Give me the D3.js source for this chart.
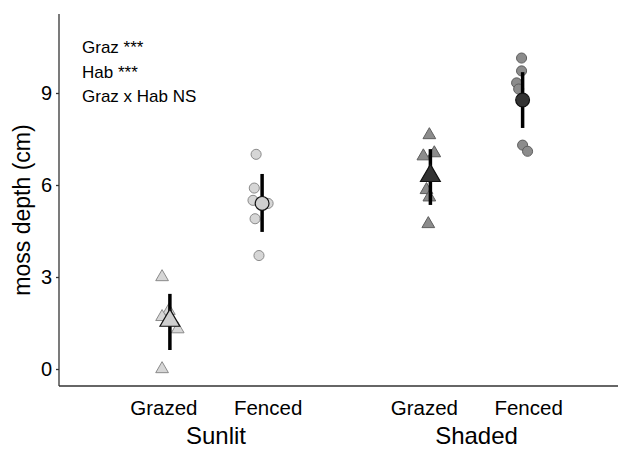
<!DOCTYPE html>
<meta charset="utf-8">
<style>
body { margin: 0; background: #fff; }
text { font-family: "Liberation Sans", Arial, sans-serif; fill: #000; }
</style>
<body>
<svg width="620" height="450" id="chart"></svg>
<script src="https://d3js.org/d3.v7.min.js"></script>
<script>

// habitat x grazing groups
var habitats = ["Sunlit", "Shaded"];
var grazing = ["Grazed", "Fenced"];
var yTicks = [0, 3, 6, 9];

// raw moss depths (cm) per group
var sunlitGrazed = [3.0, 1.9, 1.7, 1.6, 1.3, 0.0];
var sunlitFenced = [7.0, 5.9, 5.5, 5.4, 4.9, 3.7];
var shadedGrazed = [7.63, 7.04, 6.94, 5.84, 5.6, 4.73];
var shadedFenced = [10.14, 9.72, 9.33, 9.13, 7.3, 7.1];

// horizontal jitter (fraction of one habitat step) as seen in the plot
var jitSunlitGrazed = [-0.03, -0.004, -0.03, 0, 0.03, -0.03];
var jitSunlitFenced = [-0.023, -0.03, -0.035, 0.023, -0.027, -0.012];
var jitShadedGrazed = [-0.004, 0.015, -0.027, -0.015, -0.004, -0.008];
var jitShadedFenced = [-0.004, -0.004, -0.023, -0.015, 0, 0.019];

// group means with error bar ends
var means = [1.58, 5.4, 6.3, 8.77];
var lower = [0.62, 4.47, 5.35, 7.86];
var upper = [2.45, 6.36, 7.17, 9.68];

var stats = ["Graz ***", "Hab ***", "Graz x Hab NS"];

var groups = [
  {hab: "Sunlit", graz: "Grazed", vals: sunlitGrazed, jit: jitSunlitGrazed},
  {hab: "Sunlit", graz: "Fenced", vals: sunlitFenced, jit: jitSunlitFenced},
  {hab: "Shaded", graz: "Grazed", vals: shadedGrazed, jit: jitShadedGrazed},
  {hab: "Shaded", graz: "Fenced", vals: shadedFenced, jit: jitShadedFenced}
];
groups.forEach(function(g, i) { g.mean = means[i]; g.lo = lower[i]; g.hi = upper[i]; });

var svg = d3.select("svg"),
    width = +svg.attr("width"),
    height = +svg.attr("height");

var margin = {left: 59, top: 14, bottom: 386, right: 618};

// habitats sit at 1 and 2 on a continuous axis
var x = d3.scaleLinear().domain([1, 2]).range([216, 476.5]);
var dodge = d3.scalePoint().domain(grazing).range([-0.177, 0.177]);
var y = d3.scaleLinear().domain([-0.554, 11.576]).range([margin.bottom, margin.top]);

function hx(h) { return habitats.indexOf(h) + 1; }
function gx(g) { return x(hx(g.hab) + dodge(g.graz)); }

var sym = {
  Grazed: d3.symbol().type(d3.symbolTriangle),
  Fenced: d3.symbol().type(d3.symbolCircle)
};
var ptFill = {Sunlit: "#d6d6d6", Shaded: "#8c8c8c"};
var ptStroke = {Sunlit: "#8a8a8a", Shaded: "#5e5e5e"};
var meanFill = {Sunlit: "#cfcfcf", Shaded: "#333333"};

// axes
svg.append("line")
    .attr("x1", margin.left).attr("x2", margin.left)
    .attr("y1", margin.top).attr("y2", margin.bottom)
    .attr("stroke", "#333").attr("stroke-width", 1.3);
svg.append("line")
    .attr("x1", margin.left).attr("x2", margin.right)
    .attr("y1", margin.bottom).attr("y2", margin.bottom)
    .attr("stroke", "#333").attr("stroke-width", 1.3);

var yAxis = svg.append("g")
    .attr("transform", "translate(" + margin.left + ",0)")
    .call(d3.axisLeft(y).tickValues(yTicks).tickSize(3).tickPadding(4));
yAxis.select(".domain").remove();
yAxis.selectAll("line").attr("stroke", "#333").attr("stroke-width", 1.3);
yAxis.selectAll("text")
    .attr("font-size", 20)
    .attr("fill", "#1a1a1a")
    .style("font-family", '"Liberation Sans", Arial, sans-serif');

svg.append("text")
    .attr("transform", "translate(30," + 210 + ") rotate(-90)")
    .attr("text-anchor", "middle")
    .attr("font-size", 23)
    .text("moss depth (cm)");

// x labels
groups.forEach(function(g) {
  svg.append("text")
      .attr("x", x(hx(g.hab) + dodge(g.graz) * 1.13))
      .attr("y", 415)
      .attr("text-anchor", "middle")
      .attr("font-size", 20.5)
      .text(g.graz);
});
habitats.forEach(function(h) {
  svg.append("text")
      .attr("x", x(hx(h)))
      .attr("y", 444)
      .attr("text-anchor", "middle")
      .attr("font-size", 24)
      .text(h);
});

// raw points
groups.forEach(function(g) {
  var pts = g.vals.map(function(v, i) { return {v: v, j: g.jit[i]}; });
  svg.append("g").selectAll("path")
    .data(pts)
    .enter().append("path")
    .attr("d", sym[g.graz].size(g.graz === "Grazed" ? 70 : 80)())
    .attr("transform", function(d) {
      return "translate(" + x(hx(g.hab) + dodge(g.graz) + d.j) + "," + y(d.v) + ")";
    })
    .attr("fill", ptFill[g.hab])
    .attr("stroke", ptStroke[g.hab])
    .attr("stroke-width", 1);
});

// error bars
svg.append("g").selectAll("line")
  .data(groups)
  .enter().append("line")
  .attr("x1", gx).attr("x2", gx)
  .attr("y1", function(d) { return y(d.hi); })
  .attr("y2", function(d) { return y(d.lo); })
  .attr("stroke", "#000")
  .attr("stroke-width", 3.5);

// means
svg.append("g").selectAll("path")
  .data(groups)
  .enter().append("path")
  .attr("d", function(d) { return sym[d.graz].size(d.graz === "Grazed" ? 170 : 150)(); })
  .attr("transform", function(d) { return "translate(" + gx(d) + "," + y(d.mean) + ")"; })
  .attr("fill", function(d) { return meanFill[d.hab]; })
  .attr("stroke", "#111")
  .attr("stroke-width", 1.2);

// model results
svg.append("g").selectAll("text")
  .data(stats)
  .enter().append("text")
  .attr("x", 82)
  .attr("y", function(d, i) { return 53 + i * 24.5; })
  .attr("font-size", 17)
  .text(function(d) { return d; });

</script>
</body>
